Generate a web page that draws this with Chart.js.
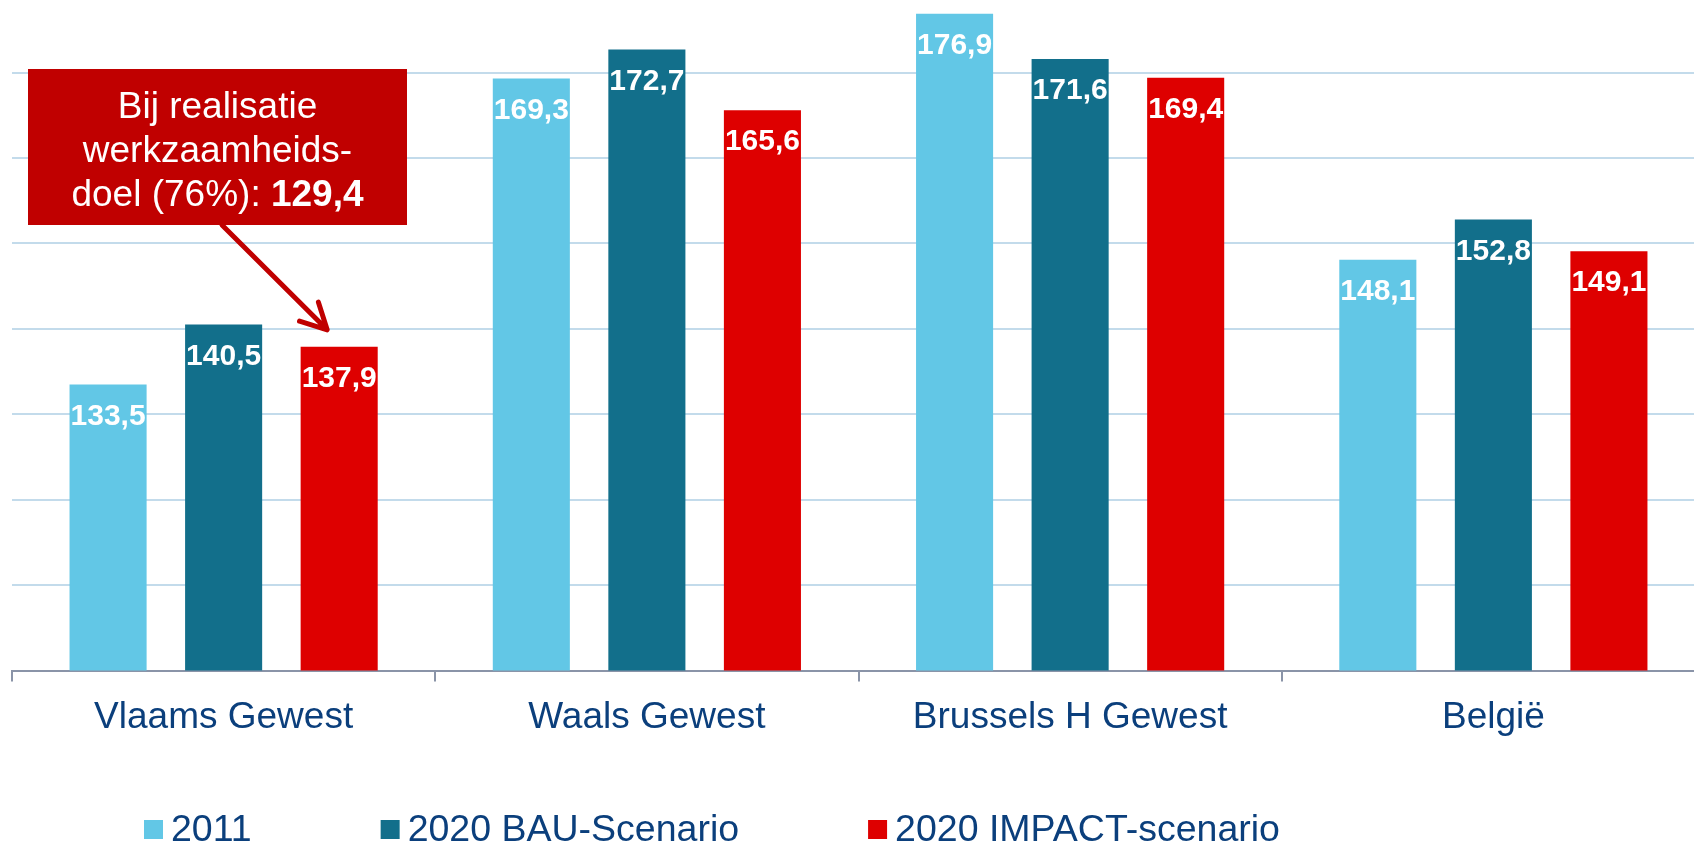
<!DOCTYPE html>
<html>
<head>
<meta charset="utf-8">
<script src="https://cdn.jsdelivr.net/npm/chart.js@4.4.1/dist/chart.umd.min.js"></script>
<style>
  html, body { margin: 0; padding: 0; background: #fff; overflow: hidden; }
  #wrap { width: 1705px; height: 849px; position: relative; }
</style>
</head>
<body>
<div id="wrap"><canvas id="myChart"></canvas></div>
<script>
const regions = ["Vlaams Gewest", "Waals Gewest", "Brussels H Gewest", "België"];
const seriesNames = ["2011", "2020 BAU-Scenario", "2020 IMPACT-scenario"];
const values2011 = [133.5, 169.3, 176.9, 148.1];
const valuesBau = [140.5, 172.7, 171.6, 152.8];
const valuesImpact = [137.9, 165.6, 169.4, 149.1];
const colors = ["#62c7e6", "#126f8b", "#de0000"];

const FONT = "'Liberation Sans', Arial, sans-serif";
const TEXT_BLUE = "#0b3f7c";
const GRID = "#c3dbeb";
const AXIS = "#8a94a8";

function fmt(v) {
  return v.toFixed(1).replace(".", ",");
}

// white value labels inside the top of each bar
const valueLabels = {
  id: "valueLabels",
  afterDatasetsDraw(chart) {
    const ctx = chart.ctx;
    ctx.save();
    ctx.fillStyle = "#fff";
    ctx.font = "bold 30px " + FONT;
    ctx.textAlign = "center";
    ctx.textBaseline = "middle";
    chart.data.datasets.forEach((ds, i) => {
      chart.getDatasetMeta(i).data.forEach((bar, j) => {
        ctx.fillText(fmt(ds.data[j]), bar.x, bar.y + 32);
      });
    });
    ctx.restore();
  }
};

// red call-out box with arrow pointing at the Vlaams IMPACT bar
const callout = {
  id: "callout",
  afterDraw(chart) {
    const ctx = chart.ctx;
    const a = chart.chartArea;
    const bx = a.left + 16, by = 69, bw = 379, bh = 156;
    const target = chart.getDatasetMeta(2).data[0];
    const tx = target.x - 12, ty = target.y - 17;
    const sx = bx + 194, sy = by + bh;

    ctx.save();
    ctx.fillStyle = "#c00000";
    ctx.fillRect(bx, by, bw, bh);

    ctx.strokeStyle = "#c00000";
    ctx.lineWidth = 5;
    ctx.lineCap = "round";
    ctx.lineJoin = "round";
    ctx.beginPath();
    ctx.moveTo(sx, sy);
    ctx.lineTo(tx, ty);
    const ang = Math.atan2(sy - ty, sx - tx);
    const len = 29, spread = 0.48;
    ctx.moveTo(tx + len * Math.cos(ang - spread), ty + len * Math.sin(ang - spread));
    ctx.lineTo(tx, ty);
    ctx.lineTo(tx + len * Math.cos(ang + spread), ty + len * Math.sin(ang + spread));
    ctx.stroke();

    const cx = bx + bw / 2;
    ctx.fillStyle = "#fff";
    ctx.textBaseline = "alphabetic";
    ctx.textAlign = "center";
    ctx.font = "37px " + FONT;
    ctx.fillText("Bij realisatie", cx, 118);
    ctx.fillText("werkzaamheids-", cx, 162);
    const p1 = "doel (76%): ", p2 = "129,4";
    const w1 = ctx.measureText(p1).width;
    ctx.font = "bold 37px " + FONT;
    const w2 = ctx.measureText(p2).width;
    const x0 = cx - (w1 + w2) / 2;
    ctx.textAlign = "left";
    ctx.font = "37px " + FONT;
    ctx.fillText(p1, x0, 206);
    ctx.font = "bold 37px " + FONT;
    ctx.fillText(p2, x0 + w1, 206);
    ctx.restore();
  }
};

// legend drawn along the bottom
const bottomLegend = {
  id: "bottomLegend",
  afterDraw(chart) {
    const ctx = chart.ctx;
    const y = 829.5;
    let x = chart.chartArea.left + 132;
    ctx.save();
    ctx.font = "37.5px " + FONT;
    ctx.textBaseline = "middle";
    ctx.textAlign = "left";
    chart.data.datasets.forEach((ds) => {
      ctx.fillStyle = ds.backgroundColor;
      ctx.fillRect(x, y - 9.5, 19, 19);
      ctx.fillStyle = TEXT_BLUE;
      ctx.fillText(ds.label, x + 27, y + 1);
      x += 27 + ctx.measureText(ds.label).width + 129;
    });
    ctx.restore();
  }
};

const data = {
  labels: regions,
  datasets: [
    { label: seriesNames[0], data: values2011, backgroundColor: colors[0] },
    { label: seriesNames[1], data: valuesBau, backgroundColor: colors[1] },
    { label: seriesNames[2], data: valuesImpact, backgroundColor: colors[2] }
  ]
};

new Chart(document.getElementById("myChart"), {
  type: "bar",
  data: data,
  options: {
    responsive: true,
    maintainAspectRatio: false,
    animation: false,
    events: [],
    categoryPercentage: 0.819,
    barPercentage: 0.667,
    layout: { padding: { left: 12, right: 0, top: 0, bottom: 95 } },
    plugins: { legend: { display: false }, tooltip: { enabled: false } },
    scales: {
      x: {
        grid: { offset: true, drawOnChartArea: false, tickLength: 11, color: AXIS, lineWidth: 2 },
        border: { color: AXIS, width: 2 },
        ticks: { color: TEXT_BLUE, font: { family: FONT, size: 37 }, padding: 14 }
      },
      y: {
        min: 100,
        max: 178.5,
        ticks: { display: false, stepSize: 10 },
        border: { display: false },
        grid: {
          drawTicks: false,
          lineWidth: 2,
          color: (c) => (c.tick && c.tick.value > 100 && c.tick.value % 10 === 0) ? GRID : "rgba(0,0,0,0)"
        }
      }
    }
  },
  plugins: [valueLabels, callout, bottomLegend]
});
</script>
</body>
</html>
